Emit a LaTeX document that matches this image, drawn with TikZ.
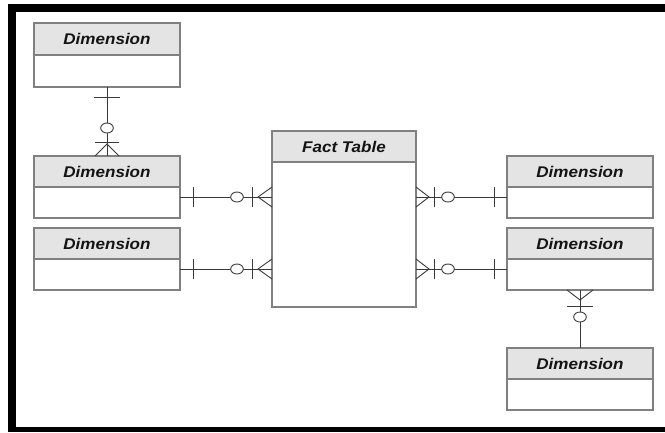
\documentclass[tikz,border=0pt]{standalone}
\usepackage{fontspec}
\usepackage{graphicx}
\setmainfont{Liberation Sans}
\usetikzlibrary{calc}
\definecolor{boxline}{HTML}{808080}
\definecolor{headfill}{HTML}{E4E4E4}
\definecolor{linkline}{HTML}{3A3A3A}
\definecolor{headtext}{HTML}{141414}
\tikzset{
  head/.style={draw=boxline, line width=1.2pt, fill=headfill, inner sep=0pt, outer sep=0pt,
    anchor=north west, minimum width=146pt, minimum height=31pt, text=headtext,
    font=\fontsize{15.5}{18}\selectfont\bfseries\itshape},
  body/.style={draw=boxline, line width=1.2pt, fill=white, inner sep=0pt, outer sep=0pt,
    anchor=north, minimum width=146pt, minimum height=31pt},
  link/.style={draw=linkline, line width=0.9pt},
  zero/.style={draw=linkline, line width=0.9pt, fill=white},
  frame/.style={fill=black, draw=none}
}
\newcommand{\htext}[1]{\scalebox{1.1}[1]{#1}}
\begin{document}
\begin{tikzpicture}[x=1pt, y=-1pt]
  \useasboundingbox (0,0) rectangle (665,432);
  \fill[white] (0,0) rectangle (665,432);
  % black frame bands
  \fill[frame] (7.5,3.5) rectangle (665,11.5);
  \fill[frame] (7.5,3.5) rectangle (16,431.5);
  \fill[frame] (7.5,427) rectangle (665,431.5);

  % entities: header node + body node
  \node[head, minimum height=32pt] (d1h) at (34,23) {\htext{Dimension}};
  \node[body, minimum height=32pt] (d1b) at (d1h.south) {};
  \node[head] (d2h) at (34,156) {\htext{Dimension}};
  \node[body] (d2b) at (d2h.south) {};
  \node[head] (d3h) at (34,228) {\htext{Dimension}};
  \node[body] (d3b) at (d3h.south) {};
  \node[head, minimum width=144pt] (fh) at (272,131) {\htext{Fact Table}};
  \node[body, minimum width=144pt, minimum height=145pt] (fb) at (fh.south) {};
  \node[head] (d4h) at (507,156) {\htext{Dimension}};
  \node[body] (d4b) at (d4h.south) {};
  \node[head] (d5h) at (507,228) {\htext{Dimension}};
  \node[body] (d5b) at (d5h.south) {};
  \node[head] (d6h) at (507,348) {\htext{Dimension}};
  \node[body] (d6b) at (d6h.south) {};

  % left links: dimension (one) to fact (zero or many)
  \foreach \d/\n in {d2b/1, d3b/2}{
    \draw[link] (\d.east) ++(0,-5.5) coordinate (la\n) -- (la\n -| fb.west) coordinate (lb\n);
    \draw[link] ($(la\n)+(13,-10)$) -- ($(la\n)+(13,10)$);
    \draw[link] ($(lb\n)+(-20,-10)$) -- ($(lb\n)+(-20,10)$);
    \draw[link] ($(lb\n)+(0,-10)$) -- ($(lb\n)+(-14,0)$) -- ($(lb\n)+(0,10)$);
    \draw[zero] ($(lb\n)+(-35,0)$) ellipse [x radius=6.3, y radius=5];
  }

  % right links: fact (zero or many) to dimension (one)
  \foreach \d/\n in {d4b/1, d5b/2}{
    \draw[link] (\d.west) ++(0,-5.5) coordinate (rb\n) -- (rb\n -| fb.east) coordinate (ra\n);
    \draw[link] ($(rb\n)+(-13,-10)$) -- ($(rb\n)+(-13,10)$);
    \draw[link] ($(ra\n)+(18,-10)$) -- ($(ra\n)+(18,10)$);
    \draw[link] ($(ra\n)+(0,-10)$) -- ($(ra\n)+(13,0)$) -- ($(ra\n)+(0,10)$);
    \draw[zero] ($(ra\n)+(32,0)$) ellipse [x radius=6.3, y radius=5];
  }

  % upper left: dimension (one) to dimension (zero or many)
  \draw[link] (d1b.south) -- (d2h.north);
  \draw[link] ($(d1b.south)+(-13,10)$) -- ($(d1b.south)+(13,10)$);
  \draw[link] ($(d2h.north)+(-12,-14)$) -- ($(d2h.north)+(12,-14)$);
  \draw[link] ($(d2h.north)+(-12,0)$) -- ($(d2h.north)+(0,-12)$) -- ($(d2h.north)+(12,0)$);
  \draw[zero] ($(d2h.north)+(0,-28)$) ellipse [x radius=6.3, y radius=5];

  % lower right: dimension (zero or many) to dimension
  \draw[link] (d5b.south) -- (d6h.north);
  \draw[link] ($(d5b.south)+(-13,0)$) -- ($(d5b.south)+(0,10)$) -- ($(d5b.south)+(13,0)$);
  \draw[link] ($(d5b.south)+(-13,16)$) -- ($(d5b.south)+(13,16)$);
  \draw[zero] ($(d5b.south)+(0,27)$) ellipse [x radius=6.3, y radius=5];
\end{tikzpicture}
\end{document}
